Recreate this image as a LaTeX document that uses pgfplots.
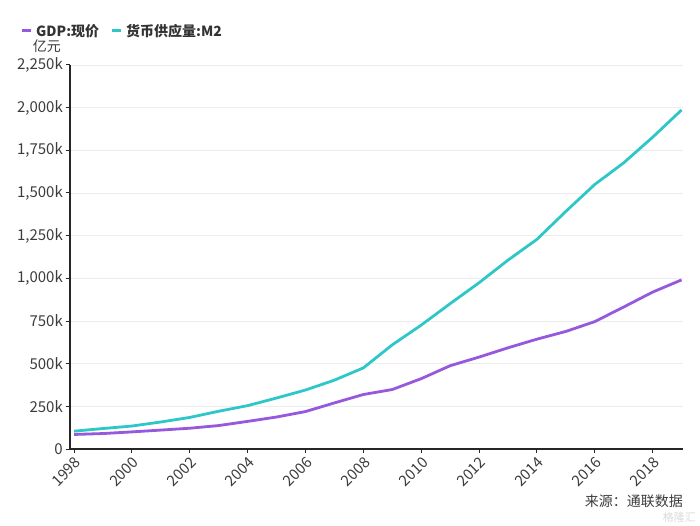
\documentclass[border=0pt]{standalone}
\usepackage{pgfplots}
\pgfplotsset{compat=1.18}
\usepackage{fontspec}
\setmainfont{Noto Sans CJK SC}
\definecolor{gdpc}{RGB}{150,88,220}
\definecolor{m2c}{RGB}{46,199,201}
\definecolor{tickc}{RGB}{60,60,60}
\begin{document}
\begin{tikzpicture}[x=1pt,y=1pt]
\useasboundingbox (0,0) rectangle (700,525);
\begin{axis}[
  at={(70pt,76pt)}, anchor=south west,
  scale only axis, width=613pt, height=384pt,
  xmin=1997.86, xmax=2019.05,
  ymin=0, ymax=2250,
  axis x line=bottom, axis y line=left,
  axis line style={-, line width=1.3pt, color=black!85},
  tick align=outside,
  major tick length=4pt,
  tick style={line width=1pt, color=black!85},
  xtick={1998,2000,...,2018},
  xticklabels={1998,2000,2002,2004,2006,2008,2010,2012,2014,2016,2018},
  ytick={0,250,...,2250},
  yticklabels={0,250k,500k,750k,{1,000k},{1,250k},{1,500k},{1,750k},{2,000k},{2,250k}},
  every tick label/.append style={font=\fontsize{15}{17}\selectfont, text=tickc},
  x tick label style={rotate=45, anchor=north east, inner sep=2pt},
  y tick label style={inner sep=3pt},
  ymajorgrids, grid style={color=black!7, line width=0.8pt},
  clip=false,
]
\addplot[gdpc, line width=2.8pt, line join=round] coordinates {
(1998,85.195) (1999,90.564) (2000,100.280) (2001,110.863) (2002,121.717)
(2003,137.422) (2004,161.840) (2005,187.319) (2006,219.439) (2007,270.092)
(2008,319.245) (2009,348.518) (2010,412.119) (2011,487.940) (2012,538.580)
(2013,592.963) (2014,643.563) (2015,688.858) (2016,746.395) (2017,832.036)
(2018,919.281) (2019,990.865)};
\addplot[m2c, line width=2.8pt, line join=round] coordinates {
(1998,104.499) (1999,119.898) (2000,134.610) (2001,158.302) (2002,185.007)
(2003,221.223) (2004,254.107) (2005,298.756) (2006,345.578) (2007,403.442)
(2008,475.167) (2009,610.225) (2010,725.852) (2011,851.591) (2012,974.149)
(2013,1106.525) (2014,1228.375) (2015,1392.278) (2016,1550.067) (2017,1676.769)
(2018,1826.744) (2019,1986.489)};
\end{axis}
\draw[gdpc, line width=3pt] (22,494) -- (31,494);
\node[anchor=west, inner sep=0pt, font=\fontsize{14}{16}\selectfont\bfseries, text=black!80] at (36,494) {GDP:现价};
\draw[m2c, line width=3pt] (112,494) -- (121,494);
\node[anchor=west, inner sep=0pt, font=\fontsize{14}{16}\selectfont\bfseries, text=black!80] at (126,494) {货币供应量:M2};
\node[anchor=east, inner sep=0pt, font=\fontsize{14}{16}\selectfont, text=tickc] at (61,479) {亿元};
\node[anchor=east, inner sep=0pt, font=\fontsize{14}{16}\selectfont, text=tickc] at (683,24) {来源：通联数据};
\node[anchor=east, inner sep=0pt, font=\fontsize{11}{13}\selectfont, text=black!15] at (696,8) {格隆汇};
\end{tikzpicture}
\end{document}
